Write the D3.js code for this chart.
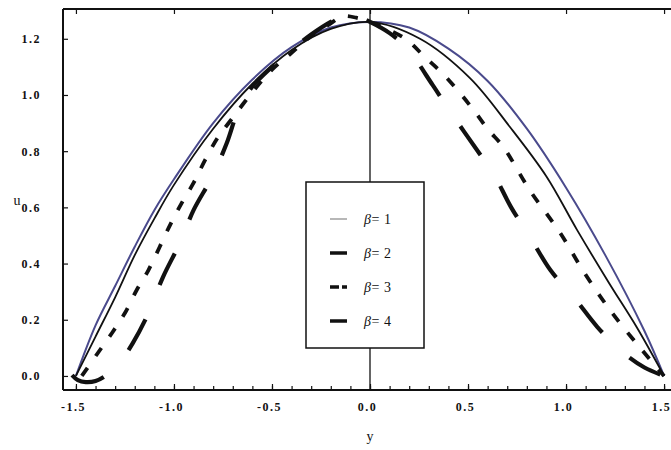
<!DOCTYPE html>
<html>
<head>
<meta charset="utf-8">
<script src="https://cdn.jsdelivr.net/npm/d3@7"></script>
<style>
  html, body { margin: 0; padding: 0; background: #fff; }
  svg { display: block; }
  text { font-family: "Liberation Serif", "DejaVu Serif", serif; fill: #111; }
</style>
</head>
<body>
<svg id="chart" width="671" height="450"></svg>
<script>
// Velocity profiles u(y) for several values of beta.
// Each series is an ordered list of [y, u] points (curves may fold back slightly).
const beta1 = [[-1.5,0],[-1.4,0.18],[-1.3,0.32],[-1.2,0.46],[-1.1,0.59],[-1.0,0.70],[-0.8,0.90],
  [-0.6,1.055],[-0.4,1.17],[-0.2,1.24],[0,1.26],[0.2,1.24],[0.4,1.165],[0.6,1.05],[0.8,0.88],
  [1.0,0.67],[1.2,0.43],[1.4,0.16],[1.5,0]];
const beta2 = [[-1.5,0],[-1.4,0.14],[-1.3,0.28],[-1.2,0.43],[-1.1,0.56],[-1.0,0.68],[-0.8,0.88],
  [-0.6,1.04],[-0.4,1.16],[-0.2,1.235],[0,1.26],[0.255,1.20],[0.51,1.06],[0.714,0.886],[0.9,0.71],
  [1.056,0.52],[1.22,0.33],[1.36,0.174],[1.5,0]];
const beta3 = [[-1.47,0],[-1.39,0.08],[-1.316,0.153],[-1.25,0.224],[-1.19,0.306],[-1.13,0.377],
  [-1.02,0.537],[-0.96,0.616],[-0.90,0.687],[-0.84,0.77],[-0.775,0.85],[-0.71,0.91],[-0.6,1.01],
  [-0.5,1.09],[-0.4,1.15],[-0.3,1.21],[-0.2,1.255],[-0.14,1.28],[-0.07,1.275],[0,1.26],
  [0.18,1.20],[0.28,1.135],[0.365,1.08],[0.455,1.01],[0.535,0.94],[0.605,0.875],[0.68,0.815],
  [0.816,0.66],[0.969,0.51],[1.1,0.36],[1.24,0.22],[1.39,0.09],[1.5,0]];
const beta4 = [[-1.52,0.003],[-1.49,-0.015],[-1.45,-0.022],[-1.40,-0.018],[-1.34,0.005],[-1.28,0.045],
  [-1.21,0.117],[-1.13,0.224],[-1.056,0.352],[-0.97,0.473],[-0.90,0.59],[-0.806,0.708],[-0.73,0.83],
  [-0.67,0.95],[-0.6,1.03],[-0.5,1.10],[-0.4,1.16],[-0.3,1.215],[-0.2,1.26],[-0.12,1.285],
  [-0.05,1.275],[0,1.26],[0.1,1.22],[0.19,1.165],[0.32,1.035],[0.41,0.94],[0.56,0.79],[0.63,0.72],
  [0.72,0.60],[0.82,0.49],[0.92,0.377],[1.04,0.28],[1.16,0.174],[1.28,0.09],[1.4,0.03],[1.5,0]];

const legendLabels = ["1", "2", "3", "4"];
const xTicks = [-1.5, -1.0, -0.5, 0.0, 0.5, 1.0, 1.5];
const xMinorTicks = d3.range(-15, 16).map(i => i / 10);
const yTicks = [0.0, 0.2, 0.4, 0.6, 0.8, 1.0, 1.2];

const svg = d3.select("#chart");
const plotL = 63, plotT = 9, plotB = 390, plotR = 677;

const x = d3.scaleLinear().domain([-1.566, 1.566]).range([plotL, plotR]);
const y = d3.scaleLinear().domain([-0.05, 1.306]).range([plotB, plotT]);
const fmt = d => d.toFixed(1);

// Vertical axis line at y = 0
svg.append("line")
  .attr("x1", x(0)).attr("x2", x(0))
  .attr("y1", plotT).attr("y2", plotB)
  .attr("stroke", "#111").attr("stroke-width", 1.3);

// Curves
const line = d3.line().x(d => x(d[0])).y(d => y(d[1])).curve(d3.curveCatmullRom.alpha(0.5));
const styles = [
  { data: beta1, color: "#4a4a8c", width: 2, dash: null },
  { data: beta2, color: "#111", width: 1.8, dash: null },
  { data: beta3, color: "#111", width: 3.8, dash: "10,14" },
  { data: beta4, color: "#111", width: 4.2, dash: "35,37" }
];
svg.append("g").selectAll("path").data(styles).join("path")
  .attr("d", s => line(s.data))
  .attr("fill", "none")
  .attr("stroke", s => s.color)
  .attr("stroke-width", s => s.width)
  .attr("stroke-dasharray", s => s.dash);

// Frame
const frame = svg.append("g").attr("stroke", "#111").attr("stroke-width", 2);
frame.append("line").attr("x1", plotL).attr("x2", plotR).attr("y1", plotT).attr("y2", plotT);
frame.append("line").attr("x1", plotL).attr("x2", plotR).attr("y1", plotB).attr("y2", plotB);
frame.append("line").attr("x1", plotL).attr("x2", plotL).attr("y1", plotT).attr("y2", plotB);
frame.append("line").attr("x1", plotR).attr("x2", plotR).attr("y1", plotT).attr("y2", plotB);

// Bottom axis: major ticks with labels, minor ticks every 0.1
const bx = svg.append("g").attr("transform", `translate(0,${plotB})`)
  .call(d3.axisBottom(x).tickValues(xTicks).tickFormat(fmt).tickSizeInner(-6).tickSizeOuter(0).tickPadding(12));
svg.append("g").attr("transform", `translate(0,${plotB})`)
  .call(d3.axisBottom(x).tickValues(xMinorTicks).tickFormat("").tickSizeInner(-4).tickSizeOuter(0));
// Top axis: major ticks only
svg.append("g").attr("transform", `translate(0,${plotT})`)
  .call(d3.axisTop(x).tickValues(xTicks).tickFormat("").tickSizeInner(-5).tickSizeOuter(0));
// Left axis
svg.append("g").attr("transform", `translate(${plotL},0)`)
  .call(d3.axisLeft(y).tickValues(yTicks).tickFormat(fmt).tickSizeInner(-5).tickSizeOuter(0).tickPadding(22));

svg.selectAll(".domain").remove();
svg.selectAll(".tick line").attr("stroke", "#111").attr("stroke-width", 1.2);
svg.selectAll(".tick text")
  .style("font-family", '"Liberation Serif", serif')
  .style("font-size", "12px").style("font-weight", "bold")
  .style("letter-spacing", "1.5px").attr("fill", "#222");
bx.selectAll(".tick text").attr("dx", "-3");

// Axis titles
svg.append("text").attr("x", x(0)).attr("y", 441).attr("text-anchor", "middle")
  .style("font-size", "14px").text("y");
svg.append("text").attr("x", 17).attr("y", 205).attr("text-anchor", "middle")
  .style("font-size", "14px").text("u");

// Legend
const lg = svg.append("g");
lg.append("rect").attr("x", 306).attr("y", 182).attr("width", 118).attr("height", 166)
  .attr("fill", "#fff").attr("stroke", "#111").attr("stroke-width", 1.5);
const rowY = [219, 253, 287, 321];
const samples = [
  { color: "#888", width: 1.2, dash: null },
  { color: "#111", width: 3.5, dash: null },
  { color: "#111", width: 3.5, dash: "9,3" },
  { color: "#111", width: 3.5, dash: null }
];
legendLabels.forEach((lab, i) => {
  lg.append("line").attr("x1", 330).attr("x2", 347).attr("y1", rowY[i]).attr("y2", rowY[i])
    .attr("stroke", samples[i].color).attr("stroke-width", samples[i].width)
    .attr("stroke-dasharray", samples[i].dash);
  const t = lg.append("text").attr("x", 364).attr("y", rowY[i] + 5)
    .style("font-size", "14px").style("letter-spacing", "0.5px");
  t.append("tspan").style("font-style", "italic").text("β");
  t.append("tspan").text("= " + lab);
});
</script>
</body>
</html>
